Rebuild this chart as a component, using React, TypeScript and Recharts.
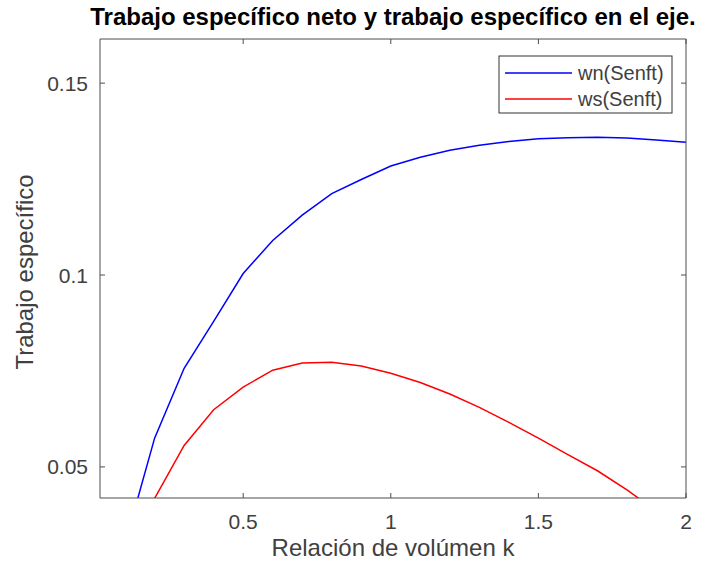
import React from 'react';
import { LineChart, Line, XAxis, YAxis } from 'recharts';

const kValues = [0.1, 0.2, 0.3, 0.4, 0.5, 0.6, 0.7, 0.8, 0.9, 1.0, 1.1, 1.2, 1.3, 1.4, 1.5, 1.6, 1.7, 1.8, 1.9, 2.0];
const wnSenft = [0.030, 0.0575, 0.0757, 0.0879, 0.1004, 0.1090, 0.1156, 0.1212, 0.1249, 0.1284, 0.1307, 0.1325, 0.1338, 0.1348, 0.1355, 0.1358, 0.1359, 0.1357, 0.1352, 0.1346];
const wsSenft = [0.020, 0.0418, 0.0556, 0.0649, 0.0708, 0.0752, 0.0771, 0.0773, 0.0763, 0.0744, 0.0720, 0.0690, 0.0655, 0.0616, 0.0575, 0.0532, 0.0490, 0.0440, 0.0385, 0.0330];
const seriesNames = ['wn(Senft)', 'ws(Senft)'];
const seriesKeys = ['wn', 'ws'];
const seriesColors = ['#0000ff', '#ff0000'];
const xTicks = [0.5, 1, 1.5, 2];
const yTicks = [0.05, 0.1, 0.15];
const xDomain = [0.015, 2];
const yDomain = [0.0419, 0.1615];
const titleText = 'Trabajo específico neto y trabajo específico en el eje.';
const xLabelText = 'Relación de volúmen k';
const yLabelText = 'Trabajo específico';

const rows = kValues.map((k, i) => ({ k, wn: wnSenft[i], ws: wsSenft[i] }));

const FONT = '"Liberation Sans", Arial, Helvetica, sans-serif';
const AXIS = '#4d4d4d';
const TEXT = '#404040';

const PLOT_LEFT = 100;
const PLOT_TOP = 39;
const PLOT_RIGHT = 686;
const PLOT_BOTTOM = 498;
const TICK_LEN = 5;
const W = 706;
const H = 567;

const TitleLabel = () => (
  <text x={(PLOT_LEFT + PLOT_RIGHT) / 2} y={25} textAnchor="middle" fontFamily={FONT} fontSize={24} fontWeight="bold" fill="#000">
    {titleText}
  </text>
);

const XLabel = () => (
  <text x={(PLOT_LEFT + PLOT_RIGHT) / 2} y={556} textAnchor="middle" fontFamily={FONT} fontSize={24} fill={TEXT}>
    {xLabelText}
  </text>
);

const YLabel = () => (
  <text transform={`translate(33, 272) rotate(-90)`} textAnchor="middle" fontFamily={FONT} fontSize={24} fill={TEXT}>
    {yLabelText}
  </text>
);

const LegendBox = () => {
  const bx = 499, by = 56, bw = 173, bh = 57;
  return (
    <g>
      <rect x={bx} y={by} width={bw} height={bh} fill="#fff" stroke="#333" strokeWidth={1} />
      {seriesNames.map((name, i) => {
        const cy = 73 + i * 26;
        return (
          <g key={name}>
            <line x1={505} x2={572} y1={cy} y2={cy} stroke={seriesColors[i]} strokeWidth={1.5} />
            <text x={578} y={cy + 7} fontFamily={FONT} fontSize={20} fill={TEXT}>{name}</text>
          </g>
        );
      })}
    </g>
  );
};

const BottomTick = (props: any) => {
  const x = props.x;
  return (
    <g>
      <line x1={x} x2={x} y1={PLOT_BOTTOM} y2={PLOT_BOTTOM - TICK_LEN} stroke={AXIS} />
      <text x={x} y={PLOT_BOTTOM + 31} textAnchor="middle" fontFamily={FONT} fontSize={21} fill={TEXT}>
        {String(props.payload.value)}
      </text>
    </g>
  );
};

const TopTick = (props: any) => {
  const x = props.x;
  return <line x1={x} x2={x} y1={PLOT_TOP} y2={PLOT_TOP + TICK_LEN} stroke={AXIS} />;
};

const LeftTick = (props: any) => {
  const y = props.y;
  return (
    <g>
      <line x1={PLOT_LEFT} x2={PLOT_LEFT + TICK_LEN} y1={y} y2={y} stroke={AXIS} />
      <text x={PLOT_LEFT - 12} y={y + 7.5} textAnchor="end" fontFamily={FONT} fontSize={21} fill={TEXT}>
        {String(props.payload.value)}
      </text>
    </g>
  );
};

const RightTick = (props: any) => {
  const y = props.y;
  return <line x1={PLOT_RIGHT} x2={PLOT_RIGHT - TICK_LEN} y1={y} y2={y} stroke={AXIS} />;
};

export default function App() {
  return (
    <div style={{ width: W, height: H, position: 'relative' }}>
      <style>{`body{margin:0;}`}</style>
      <LineChart
        width={W}
        height={H}
        data={rows}
        margin={{ top: PLOT_TOP - 1, right: W - PLOT_RIGHT - 1, bottom: 0, left: 0 }}
      >
        <XAxis
          dataKey="k"
          type="number"
          domain={xDomain}
          ticks={xTicks}
          allowDataOverflow
          height={H - PLOT_BOTTOM}
          stroke={AXIS}
          tickLine={false}
          tick={BottomTick}
          label={{ content: () => <XLabel /> }}
        />
        <XAxis
          xAxisId="top"
          orientation="top"
          dataKey="k"
          type="number"
          domain={xDomain}
          ticks={xTicks}
          allowDataOverflow
          height={1}
          stroke={AXIS}
          tickLine={false}
          tick={TopTick}
          label={{ content: () => <TitleLabel /> }}
        />
        <YAxis
          type="number"
          domain={yDomain}
          ticks={yTicks}
          allowDataOverflow
          width={PLOT_LEFT}
          stroke={AXIS}
          tickLine={false}
          tick={LeftTick}
          label={{ content: () => <YLabel /> }}
        />
        <YAxis
          yAxisId="right"
          orientation="right"
          type="number"
          domain={yDomain}
          ticks={yTicks}
          allowDataOverflow
          width={1}
          stroke={AXIS}
          tickLine={false}
          tick={RightTick}
          label={{ content: () => <LegendBox /> }}
        />
        {seriesKeys.map((key, i) => (
          <Line
            key={key}
            type="linear"
            dataKey={key}
            name={seriesNames[i]}
            stroke={seriesColors[i]}
            strokeWidth={1.5}
            dot={false}
            activeDot={false}
            isAnimationActive={false}
          />
        ))}
      </LineChart>
    </div>
  );
}
